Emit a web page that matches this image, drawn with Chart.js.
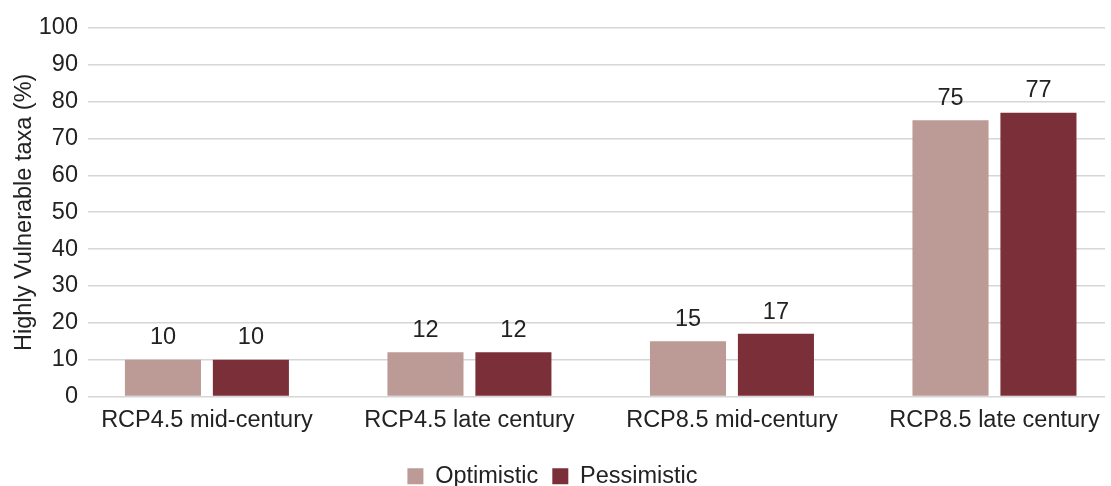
<!DOCTYPE html>
<html>
<head>
<meta charset="utf-8">
<script src="https://cdn.jsdelivr.net/npm/chart.js@4.4.1/dist/chart.umd.min.js"></script>
<style>
  html, body { margin: 0; padding: 0; background: #ffffff; }
  #wrap { width: 1111px; height: 486px; }
</style>
</head>
<body>
<div id="wrap"><canvas id="chart" width="1111" height="486"></canvas></div>
<script>
// Scenario categories along the x axis
const categories = ['RCP4.5 mid-century', 'RCP4.5 late century', 'RCP8.5 mid-century', 'RCP8.5 late century'];
// Share of highly vulnerable taxa (%) per scenario
const optimistic = [10, 12, 15, 75];
const pessimistic = [10, 12, 17, 77];
// Y-axis tick values
const yTicks = [0, 10, 20, 30, 40, 50, 60, 70, 80, 90, 100];

const FONT = "'Liberation Sans', Arial, Helvetica, sans-serif";
const TEXT = '#222222';
const SIZE = 23.5;

// Writes each bar's value just above it
const valueLabels = {
  id: 'valueLabels',
  afterDatasetsDraw(chart) {
    const ctx = chart.ctx;
    ctx.save();
    ctx.font = `${SIZE}px ${FONT}`;
    ctx.fillStyle = TEXT;
    ctx.textAlign = 'center';
    ctx.textBaseline = 'bottom';
    chart.data.datasets.forEach((ds, di) => {
      chart.getDatasetMeta(di).data.forEach((bar, i) => {
        ctx.fillText(String(ds.data[i].y), bar.x, bar.y - 10);
      });
    });
    ctx.restore();
  }
};

new Chart(document.getElementById('chart'), {
  type: 'bar',
  data: {
    datasets: [
      {
        label: 'Optimistic',
        data: optimistic.map((v, i) => ({ x: i, y: v })),
        backgroundColor: '#bc9a95'
      },
      {
        label: 'Pessimistic',
        data: pessimistic.map((v, i) => ({ x: i, y: v })),
        backgroundColor: '#7b3039'
      }
    ]
  },
  options: {
    responsive: false,
    animation: false,
    devicePixelRatio: 1,
    categoryPercentage: 0.67,
    barPercentage: 0.865,
    layout: { padding: { top: 28, right: 6, left: 0, bottom: -12 } },
    plugins: {
      legend: {
        position: 'bottom',
        labels: {
          boxWidth: 16,
          boxHeight: 16,
          padding: 14,
          color: TEXT,
          font: { family: FONT, size: SIZE }
        }
      },
      tooltip: { enabled: false }
    },
    scales: {
      x: {
        type: 'linear',
        offset: false,
        bounds: 'data',
        min: -0.453,
        max: 3.421,
        grid: { display: false, offset: false },
        border: { display: false },
        afterBuildTicks(axis) {
          axis.ticks = categories.map((_, i) => ({ value: i }));
        },
        afterFit(axis) { axis.height = 54; },
        ticks: {
          color: TEXT,
          padding: 2,
          maxRotation: 0,
          autoSkip: false,
          font: { family: FONT, size: SIZE },
          callback: (v) => categories[v]
        }
      },
      y: {
        min: 0,
        max: 100,
        afterBuildTicks(axis) {
          axis.ticks = yTicks.map(v => ({ value: v }));
        },
        afterFit(axis) { axis.width = 88; },
        grid: { color: '#d6d6d6', lineWidth: 1.6, drawTicks: false },
        border: { display: false },
        ticks: {
          color: TEXT,
          padding: 10,
          font: { family: FONT, size: SIZE }
        },
        title: {
          display: true,
          text: 'Highly Vulnerable taxa (%)',
          color: TEXT,
          padding: { top: 10, bottom: 0 },
          font: { family: FONT, size: SIZE }
        }
      }
    }
  },
  plugins: [valueLabels]
});
</script>
</body>
</html>
